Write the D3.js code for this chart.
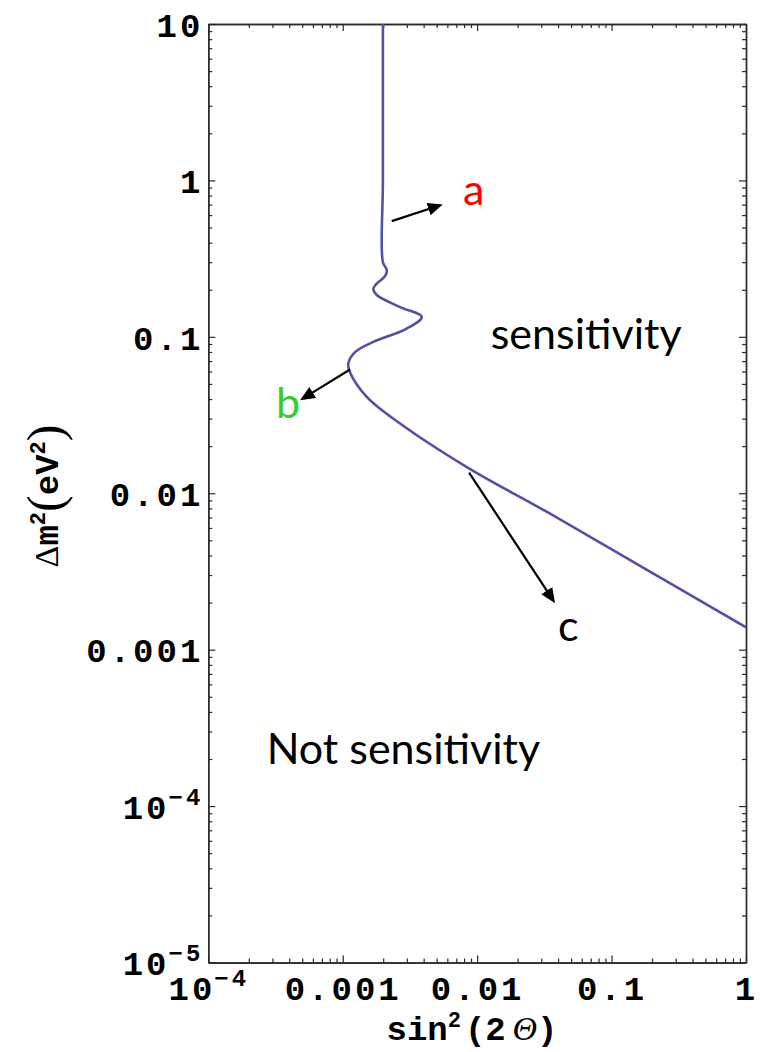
<!DOCTYPE html>
<html>
<head>
<meta charset="utf-8">
<script src="https://cdn.jsdelivr.net/npm/d3@7"></script>
<style>
  html, body { margin: 0; padding: 0; background: #fff; }
  svg { display: block; }
</style>
</head>
<body>
<svg id="chart" width="760" height="1052"></svg>
<script>
// Sensitivity contour, listed in order along the curve (top edge -> right edge)
const sin2theta = [0.00199, 0.00199, 0.00199, 0.00213, 0.00206, 0.00177, 0.00169, 0.00179,
                   0.00267, 0.00387, 0.00299, 0.00169, 0.00124, 0.00110, 0.00113, 0.00151,
                   0.00267, 0.00837, 0.0349, 0.193, 1.0];
const deltaM2   = [10, 1.0, 0.300, 0.267, 0.244, 0.217, 0.202, 0.185,
                   0.155, 0.134, 0.113, 0.0928, 0.0801, 0.0675, 0.0596, 0.0413,
                   0.0279, 0.0147, 0.0074, 0.00316, 0.00139];

// Axis ticks and their labels (base text + optional exponent)
const xMajor = [1e-4, 1e-3, 1e-2, 1e-1, 1];
const xTickText = ["10", "0.001", "0.01", "0.1", "1"];
const xTickSup  = ["\u22124", "", "", "", ""];
const yMajor = [1e-5, 1e-4, 1e-3, 1e-2, 1e-1, 1, 10];
const yTickText = ["10", "10", "0.001", "0.01", "0.1", "1", "10"];
const yTickSup  = ["\u22125", "\u22124", "", "", "", "", ""];

// Annotation labels and arrows (data coordinates)
const annoLabels = ["a", "b", "c"];
const annoLabelX = [7.85e-3, 3.19e-4, 0.0400];
const annoLabelY = [0.695, 0.0301, 0.00113];
const arrowFromX = [2.315e-3, 1.133e-3, 8.71e-3];
const arrowFromY = [0.549, 0.0618, 0.01355];
const arrowToX   = [5.546e-3, 4.81e-4, 0.03798];
const arrowToY   = [0.7022, 0.0393, 0.001983];

// Region captions
const regionLabels = ["sensitivity", "Not sensitivity"];
const regionX = [0.01262, 2.72e-4];
const regionY = [0.0841, 1.862e-4];

const svg = d3.select("#chart");
const plot = { left: 208.3, right: 746, top: 24, bottom: 962.5 };

const x = d3.scaleLog().domain([1e-4, 1]).range([plot.left, plot.right]);
const y = d3.scaleLog().domain([1e-5, 10]).range([plot.bottom, plot.top]);

const minorOf = (lo, hi) => {
  const out = [];
  for (let e = Math.log10(lo); e < Math.log10(hi); e++) {
    for (let k = 2; k <= 9; k++) out.push(k * Math.pow(10, e));
  }
  return out;
};
const xMinor = minorOf(1e-4, 1);
const yMinor = minorOf(1e-5, 10);

const tickFont = "'Liberation Mono', 'DejaVu Sans Mono', monospace";
const serifFont = "'Liberation Serif', 'DejaVu Serif', serif";
const tickSize = 34;
const tickSpacing = 3;
const frameColor = "#2a2a2a";

function styleAxis(g) {
  g.select(".domain").attr("stroke", frameColor).attr("stroke-width", 1.4);
  g.selectAll(".tick line").attr("stroke", frameColor).attr("stroke-width", 1.2);
}

// Base text followed by a raised exponent (offsets in px so they cancel exactly)
function addLabelTspans(sel, texts, sups) {
  sel.each(function (d, i) {
    const t = d3.select(this);
    t.text(null);
    t.append("tspan").text(texts[i]);
    if (sups[i]) {
      t.append("tspan").attr("dy", -14).attr("dx", -1).attr("font-size", 24).text(sups[i]);
    }
  });
}

// Bottom axis: major ticks with labels, minor ticks inward
const gxMinor = svg.append("g").attr("transform", `translate(0,${plot.bottom})`)
  .call(d3.axisBottom(x).tickValues(xMinor).tickSizeInner(-4).tickSizeOuter(0).tickFormat(""));
styleAxis(gxMinor);
const gx = svg.append("g").attr("transform", `translate(0,${plot.bottom})`)
  .call(d3.axisBottom(x).tickValues(xMajor).tickSizeInner(-7).tickSizeOuter(0).tickPadding(13));
styleAxis(gx);
gx.selectAll(".tick text")
  .attr("font-family", tickFont).attr("font-weight", "bold").attr("font-size", tickSize)
  .attr("letter-spacing", tickSpacing)
  .attr("fill", "#000").attr("dy", "0.71em")
  .call(addLabelTspans, xTickText, xTickSup);

// Top axis: ticks only
const gtMinor = svg.append("g").attr("transform", `translate(0,${plot.top})`)
  .call(d3.axisTop(x).tickValues(xMinor).tickSizeInner(-4).tickSizeOuter(0).tickFormat(""));
styleAxis(gtMinor);
const gt = svg.append("g").attr("transform", `translate(0,${plot.top})`)
  .call(d3.axisTop(x).tickValues(xMajor).tickSizeInner(-7).tickSizeOuter(0).tickFormat(""));
styleAxis(gt);

// Left axis
const gyMinor = svg.append("g").attr("transform", `translate(${plot.left},0)`)
  .call(d3.axisLeft(y).tickValues(yMinor).tickSizeInner(-4).tickSizeOuter(0).tickFormat(""));
styleAxis(gyMinor);
const gy = svg.append("g").attr("transform", `translate(${plot.left},0)`)
  .call(d3.axisLeft(y).tickValues(yMajor).tickSizeInner(-7).tickSizeOuter(0).tickPadding(5));
styleAxis(gy);
gy.selectAll(".tick text")
  .attr("font-family", tickFont).attr("font-weight", "bold").attr("font-size", tickSize)
  .attr("letter-spacing", tickSpacing)
  .attr("fill", "#000").attr("dy", "0.36em")
  .call(addLabelTspans, yTickText, yTickSup);

// Right axis: ticks only
const grMinor = svg.append("g").attr("transform", `translate(${plot.right},0)`)
  .call(d3.axisRight(y).tickValues(yMinor).tickSizeInner(-4).tickSizeOuter(0).tickFormat(""));
styleAxis(grMinor);
const gr = svg.append("g").attr("transform", `translate(${plot.right},0)`)
  .call(d3.axisRight(y).tickValues(yMajor).tickSizeInner(-7).tickSizeOuter(0).tickFormat(""));
styleAxis(gr);

// Axis titles
const xTitle = svg.append("text")
  .attr("x", 472).attr("y", 1040)
  .attr("text-anchor", "middle")
  .attr("font-family", tickFont).attr("font-weight", "bold").attr("font-size", tickSize)
  .attr("fill", "#000");
xTitle.append("tspan").text("sin");
xTitle.append("tspan").attr("dy", -13).attr("font-size", 22).text("2");
xTitle.append("tspan").attr("dy", 13).attr("dx", 4).text("(2\u2009");
xTitle.append("tspan").attr("font-family", serifFont).attr("font-style", "italic")
  .attr("font-weight", "normal").text("\u0398");
xTitle.append("tspan").text(")");

const yTitle = svg.append("text")
  .attr("transform", "translate(58,496) rotate(-90)")
  .attr("text-anchor", "middle")
  .attr("font-family", tickFont).attr("font-weight", "bold").attr("font-size", tickSize)
  .attr("fill", "#000");
yTitle.append("tspan").attr("font-family", serifFont).attr("font-weight", "normal").text("\u0394");
yTitle.append("tspan").text("m");
yTitle.append("tspan").attr("dy", -13).attr("font-size", 22).text("2");
yTitle.append("tspan").attr("dy", 17).attr("font-weight", "normal").attr("font-family", serifFont)
  .attr("font-size", 50).text("(");
yTitle.append("tspan").attr("dy", -4).text("eV");
yTitle.append("tspan").attr("dy", -13).attr("font-size", 22).text("2");
yTitle.append("tspan").attr("dy", 17).attr("font-weight", "normal").attr("font-family", serifFont)
  .attr("font-size", 50).text(")");

// Clip to plot frame
svg.append("clipPath").attr("id", "plot-clip")
  .append("rect").attr("x", plot.left).attr("y", plot.top)
  .attr("width", plot.right - plot.left).attr("height", plot.bottom - plot.top);

// Sensitivity curve
const curvePts = sin2theta.map((s, i) => [s, deltaM2[i]]);
const line = d3.line()
  .x(d => x(d[0])).y(d => y(d[1]))
  .curve(d3.curveCatmullRom.alpha(0.5));
svg.append("path")
  .datum(curvePts)
  .attr("clip-path", "url(#plot-clip)")
  .attr("fill", "none")
  .attr("stroke", "#5151a6")
  .attr("stroke-width", 2.6)
  .attr("stroke-linejoin", "round")
  .attr("d", line);

// Arrows
svg.append("defs").append("marker")
  .attr("id", "arrowhead")
  .attr("markerUnits", "userSpaceOnUse")
  .attr("markerWidth", 16).attr("markerHeight", 14)
  .attr("refX", 15).attr("refY", 6.5)
  .attr("orient", "auto")
  .append("path").attr("d", "M0,0 L15,6.5 L0,13 Z").attr("fill", "#000");

annoLabels.forEach((lab, i) => {
  const x0 = x(arrowFromX[i]), y0 = y(arrowFromY[i]);
  const x1 = x(arrowToX[i]), y1 = y(arrowToY[i]);
  const len = Math.hypot(x1 - x0, y1 - y0);
  const ux = (x1 - x0) / len, uy = (y1 - y0) / len;
  // Shaft stops inside the head; the marker tip sits on the target point
  svg.append("line")
    .attr("x1", x0).attr("y1", y0)
    .attr("x2", x1 - ux * 6).attr("y2", y1 - uy * 6)
    .attr("stroke", "#000").attr("stroke-width", 2.2);
  svg.append("path")
    .attr("d", `M${x1 - ux * 7},${y1 - uy * 7} L${x1},${y1}`)
    .attr("stroke", "none").attr("fill", "none")
    .attr("marker-end", "url(#arrowhead)");
});

const annoColor = { a: "#ff0000", b: "#33cc33", c: "#000000" };
const annoFont = "Lato, 'Open Sans', sans-serif";
svg.selectAll("text.anno")
  .data(annoLabels)
  .join("text")
  .attr("class", "anno")
  .attr("x", (d, i) => x(annoLabelX[i]))
  .attr("y", (d, i) => y(annoLabelY[i]))
  .attr("font-family", annoFont)
  .attr("font-size", 43)
  .attr("fill", d => annoColor[d])
  .text(d => d);

svg.selectAll("text.region")
  .data(regionLabels)
  .join("text")
  .attr("class", "region")
  .attr("x", (d, i) => x(regionX[i]))
  .attr("y", (d, i) => y(regionY[i]))
  .attr("font-family", annoFont)
  .attr("font-size", 43)
  .attr("fill", "#000")
  .text(d => d);
</script>
</body>
</html>
